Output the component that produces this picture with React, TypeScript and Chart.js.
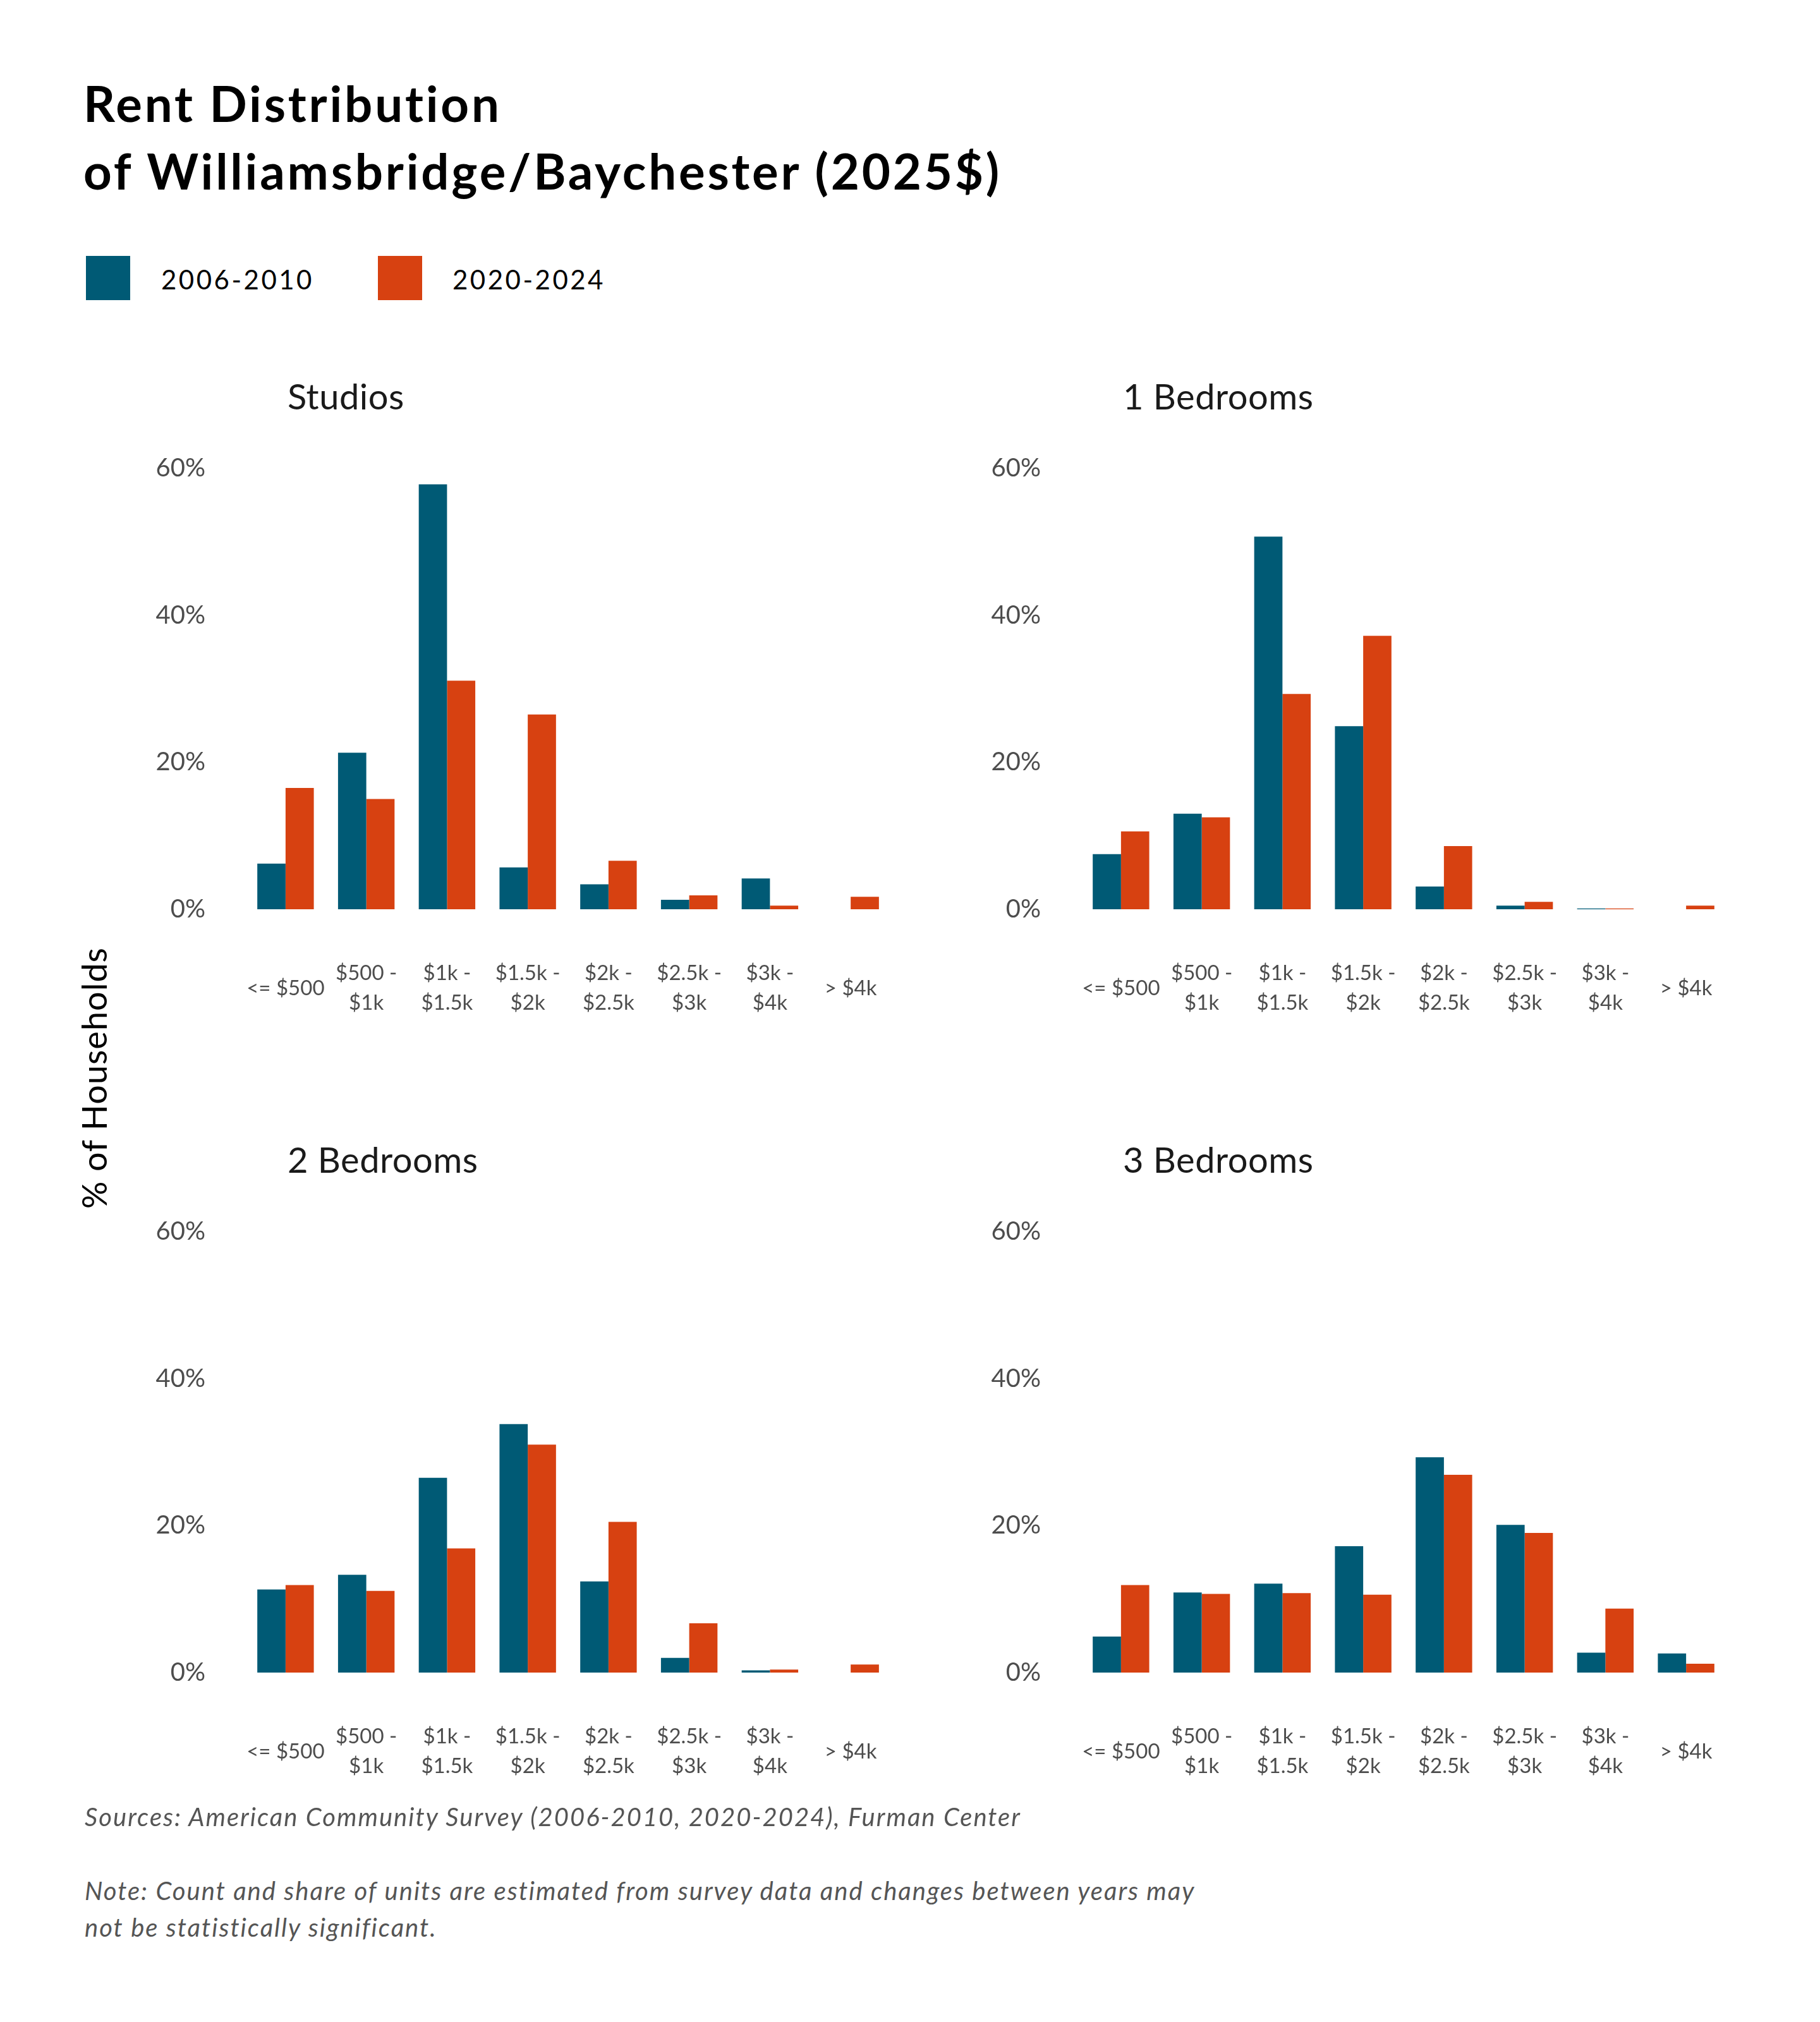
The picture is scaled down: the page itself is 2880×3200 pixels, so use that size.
import { useEffect, useRef } from "react";
import { Chart, registerables } from "chart.js";

Chart.register(...registerables);

const categories: (string | string[])[] = [
  "<= $500",
  ["$500 -", "$1k"],
  ["$1k -", "$1.5k"],
  ["$1.5k -", "$2k"],
  ["$2k -", "$2.5k"],
  ["$2.5k -", "$3k"],
  ["$3k -", "$4k"],
  "> $4k",
];
const seriesLabels = ["2006-2010", "2020-2024"];
const seriesColors = ["#005a75", "#d74111"];
const yTicks = [0, 20, 40, 60];

const studios2010 = [6.2, 21.3, 57.8, 5.7, 3.4, 1.3, 4.2, 0];
const studios2024 = [16.5, 15.0, 31.1, 26.5, 6.6, 1.9, 0.5, 1.7];
const oneBed2010 = [7.5, 13.0, 50.7, 24.9, 3.1, 0.5, 0.1, 0];
const oneBed2024 = [10.6, 12.5, 29.3, 37.2, 8.6, 1.0, 0.1, 0.5];
const twoBed2010 = [11.3, 13.3, 26.5, 33.8, 12.4, 2.0, 0.3, 0];
const twoBed2024 = [11.9, 11.1, 16.9, 31.0, 20.5, 6.7, 0.4, 1.1];
const threeBed2010 = [4.9, 10.9, 12.1, 17.2, 29.3, 20.1, 2.7, 2.6];
const threeBed2024 = [11.9, 10.7, 10.8, 10.6, 26.9, 19.0, 8.7, 1.2];

const FONT = "Lato, 'Open Sans', sans-serif";
const TICK_COLOR = "#4d4d4d";

// panel geometry
const CANVAS_W = 1230;
const CANVAS_H = 960;
const AXIS_W = 188;
const PAD_TOP = 41;
const PLOT_H = 698;

type PanelProps = {
  left: number;
  top: number;
  title: string;
  before: number[];
  after: number[];
};

const Panel = ({ left, top, title, before, after }: PanelProps) => {
  const ref = useRef<HTMLCanvasElement | null>(null);

  useEffect(() => {
    if (!ref.current) return;
    const chart = new Chart(ref.current, {
      type: "bar",
      data: {
        labels: categories,
        datasets: [
          {
            label: seriesLabels[0],
            data: before,
            backgroundColor: seriesColors[0],
            borderWidth: 0,
            categoryPercentage: 0.7,
            barPercentage: 1,
          },
          {
            label: seriesLabels[1],
            data: after,
            backgroundColor: seriesColors[1],
            borderWidth: 0,
            categoryPercentage: 0.7,
            barPercentage: 1,
          },
        ],
      },
      options: {
        responsive: false,
        animation: false,
        layout: { padding: { top: PAD_TOP, right: 20, left: 0, bottom: 0 } },
        plugins: {
          legend: { display: false },
          tooltip: { enabled: false },
        },
        scales: {
          x: {
            offset: true,
            grid: { display: false, drawTicks: false },
            border: { display: false },
            ticks: {
              autoSkip: false,
              maxRotation: 0,
              minRotation: 0,
              padding: 101,
              crossAlign: "center",
              color: TICK_COLOR,
              font: { family: FONT, size: 33, lineHeight: 1.45 },
            },
            afterFit: (s: any) => {
              s.height = CANVAS_H - PAD_TOP - PLOT_H;
              s.paddingLeft = 0;
              s.paddingRight = 0;
            },
          },
          y: {
            min: 0,
            max: 60,
            grid: { display: false, drawTicks: false },
            border: { display: false },
            ticks: {
              padding: 63,
              color: TICK_COLOR,
              font: { family: FONT, size: 40 },
              callback: (v: any) => v + "%",
            },
            afterBuildTicks: (s: any) => {
              s.ticks = yTicks.map((v) => ({ value: v }));
            },
            afterFit: (s: any) => {
              s.width = AXIS_W;
              s.paddingTop = 0;
              s.paddingBottom = 0;
            },
          },
        },
      },
    });
    return () => chart.destroy();
  }, [before, after]);

  return (
    <>
      <div
        style={{
          position: "absolute",
          left: left + 255,
          top: top - 108,
          fontFamily: FONT,
          fontSize: 56,
          lineHeight: "70px",
          letterSpacing: 0.5,
          color: "#1a1a1a",
          whiteSpace: "nowrap",
        }}
      >
        {title}
      </div>
      <canvas
        ref={ref}
        width={CANVAS_W}
        height={CANVAS_H}
        style={{
          position: "absolute",
          left,
          top,
          width: CANVAS_W,
          height: CANVAS_H,
        }}
      />
    </>
  );
};

const App = () => {
  return (
    <div
      style={{
        position: "absolute",
        left: 0,
        top: 0,
        width: 2880,
        height: 3200,
        background: "#fff",
        fontFamily: FONT,
        overflow: "hidden",
      }}
    >
      <div
        style={{
          position: "absolute",
          left: 132,
          top: 110,
          fontSize: 78,
          fontWeight: 700,
          lineHeight: "107px",
          letterSpacing: 3.8,
          color: "#000",
          whiteSpace: "nowrap",
        }}
      >
        Rent Distribution
        <br />
        of Williamsbridge/Baychester (2025$)
      </div>

      {seriesLabels.map((label, i) => (
        <div key={label}>
          <div
            style={{
              position: "absolute",
              left: i === 0 ? 136 : 598,
              top: 405,
              width: 70,
              height: 70,
              background: seriesColors[i],
            }}
          />
          <div
            style={{
              position: "absolute",
              left: i === 0 ? 255 : 716,
              top: 416,
              fontSize: 42,
              lineHeight: "52px",
              letterSpacing: 3.5,
              color: "#000",
              whiteSpace: "nowrap",
            }}
          >
            {label}
          </div>
        </div>
      ))}

      <div
        style={{
          position: "absolute",
          left: 149,
          top: 1706,
          transform: "translate(-50%, -50%) rotate(-90deg)",
          fontSize: 54,
          lineHeight: "64px",
          letterSpacing: 1,
          color: "#000",
          whiteSpace: "nowrap",
        }}
      >
        % of Households
      </div>

      <Panel left={200} top={700} title="Studios" before={studios2010} after={studios2024} />
      <Panel left={1522} top={700} title="1 Bedrooms" before={oneBed2010} after={oneBed2024} />
      <Panel left={200} top={1908} title="2 Bedrooms" before={twoBed2010} after={twoBed2024} />
      <Panel left={1522} top={1908} title="3 Bedrooms" before={threeBed2010} after={threeBed2024} />

      <div
        style={{
          position: "absolute",
          left: 134,
          top: 2846,
          fontSize: 40,
          lineHeight: "58px",
          letterSpacing: 2,
          fontStyle: "italic",
          color: "#555",
          whiteSpace: "nowrap",
        }}
      >
        Sources: American Community Survey (2006-2010, 2020-2024), Furman Center
      </div>
      <div
        style={{
          position: "absolute",
          left: 134,
          top: 2963,
          fontSize: 40,
          lineHeight: "58px",
          letterSpacing: 2,
          fontStyle: "italic",
          color: "#555",
          whiteSpace: "nowrap",
        }}
      >
        Note: Count and share of units are estimated from survey data and changes between years may
        <br />
        not be statistically significant.
      </div>
    </div>
  );
};

export default App;
